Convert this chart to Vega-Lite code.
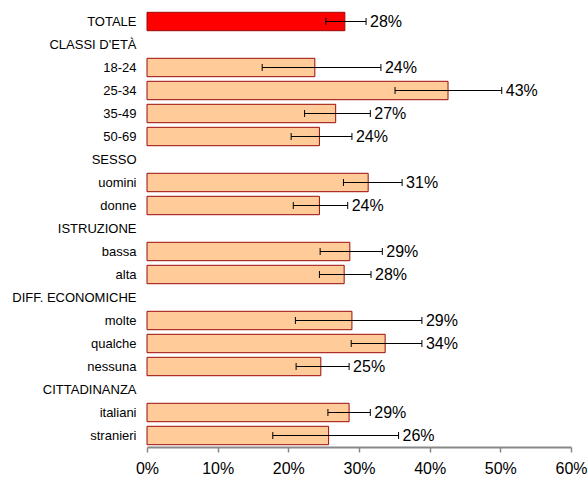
{
  "$schema": "https://vega.github.io/schema/vega-lite/v6.json",
  "autosize": {"type": "none"},
  "padding": {"left": 147, "top": 10, "right": 17, "bottom": 31},
  "width": 424,
  "height": 437,
  "background": "white",
  "config": {
    "view": {"stroke": null},
    "font": "Liberation Sans",
    "text": {"font": "Liberation Sans"}
  },
  "data": {
    "values": [
      {"cat": "TOTALE", "grp": "tot", "val": 0.28, "lo": 0.253, "hi": 0.31},
      {"cat": "CLASSI D'ETÀ", "grp": "head", "val": null, "lo": null, "hi": null},
      {"cat": "18-24", "grp": "sub", "val": 0.2375, "lo": 0.163, "hi": 0.331},
      {"cat": "25-34", "grp": "sub", "val": 0.426, "lo": 0.351, "hi": 0.502},
      {"cat": "35-49", "grp": "sub", "val": 0.267, "lo": 0.223, "hi": 0.316},
      {"cat": "50-69", "grp": "sub", "val": 0.244, "lo": 0.204, "hi": 0.29},
      {"cat": "SESSO", "grp": "head", "val": null, "lo": null, "hi": null},
      {"cat": "uomini", "grp": "sub", "val": 0.313, "lo": 0.278, "hi": 0.361},
      {"cat": "donne", "grp": "sub", "val": 0.244, "lo": 0.207, "hi": 0.284},
      {"cat": "ISTRUZIONE", "grp": "head", "val": null, "lo": null, "hi": null},
      {"cat": "bassa", "grp": "sub", "val": 0.287, "lo": 0.245, "hi": 0.333},
      {"cat": "alta", "grp": "sub", "val": 0.279, "lo": 0.244, "hi": 0.317},
      {"cat": "DIFF. ECONOMICHE", "grp": "head", "val": null, "lo": null, "hi": null},
      {"cat": "molte", "grp": "sub", "val": 0.29, "lo": 0.21, "hi": 0.389},
      {"cat": "qualche", "grp": "sub", "val": 0.337, "lo": 0.289, "hi": 0.389},
      {"cat": "nessuna", "grp": "sub", "val": 0.246, "lo": 0.211, "hi": 0.286},
      {"cat": "CITTADINANZA", "grp": "head", "val": null, "lo": null, "hi": null},
      {"cat": "italiani", "grp": "sub", "val": 0.286, "lo": 0.256, "hi": 0.316},
      {"cat": "stranieri", "grp": "sub", "val": 0.257, "lo": 0.178, "hi": 0.356}
    ]
  },
  "encoding": {
    "y": {
      "field": "cat",
      "type": "nominal",
      "sort": null,
      "scale": {
        "domain": ["TOTALE", "CLASSI D'ETÀ", "18-24", "25-34", "35-49", "50-69", "SESSO", "uomini", "donne", "ISTRUZIONE", "bassa", "alta", "DIFF. ECONOMICHE", "molte", "qualche", "nessuna", "CITTADINANZA", "italiani", "stranieri"],
        "paddingInner": 0.2,
        "paddingOuter": 0.1
      },
      "axis": {
        "title": null,
        "ticks": false,
        "tickSize": 0,
        "domain": false,
        "labelPadding": 11,
        "labelFontSize": 13,
        "labelColor": "#000000",
        "labelFont": "Liberation Sans",
        "labelAlign": "right"
      }
    }
  },
  "layer": [
    {
      "transform": [{"filter": "datum.val != null"}],
      "mark": {"type": "bar", "stroke": "#9a0a0a", "strokeWidth": 1},
      "encoding": {
        "x": {
          "field": "val",
          "type": "quantitative",
          "scale": {"domain": [0, 0.6], "nice": false},
          "axis": {
            "title": null,
            "format": ".0%",
            "values": [0, 0.1, 0.2, 0.3, 0.4, 0.5, 0.6],
            "grid": false,
            "domainColor": "#888888",
            "domainWidth": 2,
            "tickColor": "#888888",
            "tickSize": 5,
            "tickWidth": 1.5,
            "labelPadding": 8,
            "labelFontSize": 16,
            "labelColor": "#000000",
            "labelFont": "Liberation Sans",
            "labelFlush": false
          }
        },
        "color": {
          "field": "grp",
          "type": "nominal",
          "scale": {"domain": ["tot", "sub"], "range": ["#ff0000", "#ffcc99"]},
          "legend": null
        }
      }
    },
    {
      "transform": [{"filter": "datum.val != null"}],
      "mark": {"type": "rule", "color": "#000000", "strokeWidth": 1},
      "encoding": {
        "x": {"field": "lo", "type": "quantitative"},
        "x2": {"field": "hi"}
      }
    },
    {
      "transform": [{"filter": "datum.val != null"}],
      "mark": {"type": "tick", "orient": "vertical", "color": "#000000", "size": 7, "thickness": 1, "opacity": 1},
      "encoding": {
        "x": {"field": "lo", "type": "quantitative"}
      }
    },
    {
      "transform": [{"filter": "datum.val != null"}],
      "mark": {"type": "tick", "orient": "vertical", "color": "#000000", "size": 7, "thickness": 1, "opacity": 1},
      "encoding": {
        "x": {"field": "hi", "type": "quantitative"}
      }
    },
    {
      "transform": [{"filter": "datum.val != null"}],
      "mark": {"type": "text", "align": "left", "baseline": "middle", "dx": 4, "fontSize": 16, "font": "Liberation Sans", "color": "#000000"},
      "encoding": {
        "x": {"field": "hi", "type": "quantitative"},
        "text": {"field": "val", "type": "quantitative", "format": ".0%"}
      }
    }
  ]
}
